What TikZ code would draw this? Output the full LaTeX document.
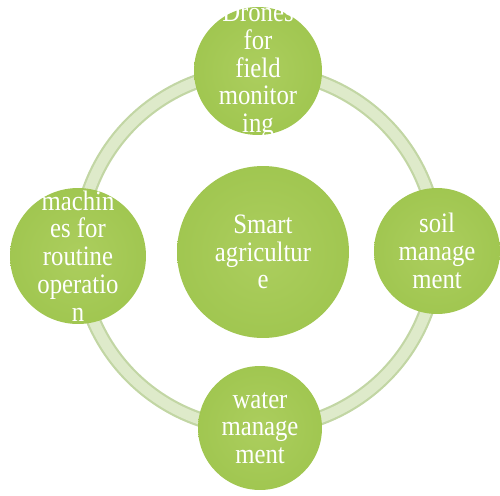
\documentclass[tikz,border=0pt]{standalone}
\usepackage{fontspec}
\setmainfont[FakeStretch=0.88]{Liberation Serif}

\definecolor{balllight}{RGB}{172,206,94}
\definecolor{ballmid}{RGB}{160,198,80}
\definecolor{ballline}{RGB}{136,172,58}
\definecolor{ballhi}{RGB}{178,212,100}
\definecolor{ballrim}{RGB}{164,201,84}
\definecolor{balldark}{RGB}{124,160,48}
\definecolor{ringouter}{RGB}{194,214,164}
\definecolor{ringinner}{RGB}{222,234,202}

\pgfdeclareradialshading{bubbleshade}{\pgfpoint{0bp}{0bp}}{%
  color(0bp)=(balllight); color(26bp)=(ballmid); color(41bp)=(ballmid);
  color(42bp)=(ballline); color(43.5bp)=(ballhi); color(47.5bp)=(ballrim);
  color(49.3bp)=(balldark); color(50bp)=(balldark)}

\begin{document}
\begin{tikzpicture}[x=0.02cm, y=0.02cm,
    bubble/.style={circle, shading=bubbleshade, inner sep=0pt},
    bubbletext/.style={text=white, align=center,
        font=\fontsize{16}{15.8}\selectfont}]
            \useasboundingbox (0,0) rectangle (500,495);

            % ring behind the bubbles
            \coordinate (hub) at (258,245);
            \draw[ringouter, line width=8.5pt] (hub) circle (179);
            \draw[ringinner, line width=6pt] (hub) circle (179);

            % outer bubbles
            \node[bubble, minimum size=2.56cm,
                label={[bubbletext]center:Drones\\for\\field\\monitor\\ing}]
                (drones) at (258,424) {};
            \node[bubble, minimum size=2.72cm,
                label={[bubbletext]center:machin\\es for\\routine\\operatio\\n}]
                (machines) at (78,239) {};
            \node[bubble, minimum size=2.52cm,
                label={[bubbletext]center:soil\\manage\\ment}]
                (soil) at (437,244) {};
            \node[bubble, minimum size=2.48cm,
                label={[bubbletext]center:water\\manage\\ment}]
                (water) at (260,67) {};

            % centre bubble
            \node[bubble, minimum size=3.44cm,
                label={[bubbletext]center:Smart\\agricultur\\e}]
                (smart) at (263,243) {};
        \end{tikzpicture}
\end{document}
